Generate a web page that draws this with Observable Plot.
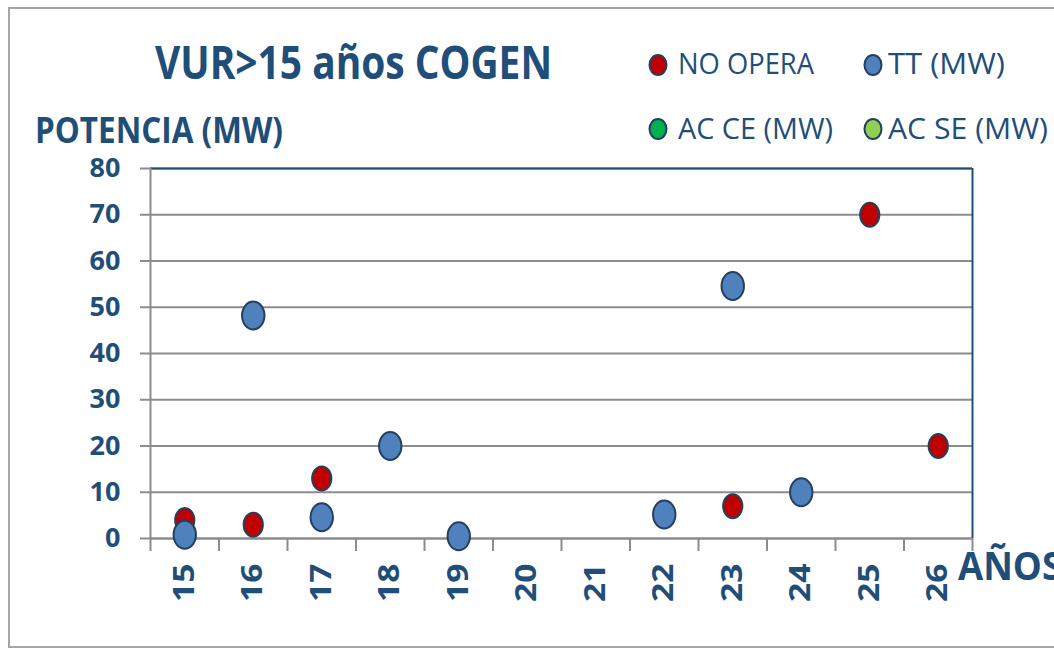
<!DOCTYPE html>
<html>
<head>
<meta charset="utf-8">
<script src="https://cdn.jsdelivr.net/npm/d3@7"></script>
<script src="https://cdn.jsdelivr.net/npm/@observablehq/plot@0.6"></script>
<style>
  html, body { margin: 0; padding: 0; background: #ffffff; }
  #wrap { position: relative; width: 1054px; height: 648px; overflow: hidden; background: #fff; }
  #wrap > svg { position: absolute; left: 0; top: 0; }
  #overlay { pointer-events: none; }
</style>
</head>
<body>
<div id="wrap"></div>
<script>
// ---- data ----
const years = [15, 16, 17, 18, 19, 20, 21, 22, 23, 24, 25, 26];
const noOperaYears  = [15, 16, 17, 23, 25, 26];
const noOperaValues = [4, 3, 13, 7, 70, 20];
const ttYears  = [15, 16, 17, 18, 19, 22, 23, 24];
const ttValues = [0.8, 48.2, 4.6, 20, 0.5, 5.2, 54.6, 10];
const yTicks = [0, 10, 20, 30, 40, 50, 60, 70, 80];
const seriesNames  = ["NO OPERA", "TT (MW)", "AC CE (MW)", "AC SE (MW)"];
const seriesColors = ["#C00000", "#4F81BD", "#00B050", "#92D050"];
const title = "VUR>15 años COGEN";
const yLabel = "POTENCIA (MW)";
const xLabel = "AÑOS";

// ---- style ----
const navy = "#1F4E79";
const gridGray = "#8c8c8c";
const dotStroke = "#243F60";

const noOpera = noOperaYears.map((y, i) => ({year: y, value: noOperaValues[i]}));
const tt = ttYears.map((y, i) => ({year: y, value: ttValues[i]}));
const boundaries = years.map(d => d - 0.5).concat([years[years.length - 1] + 0.5]);
const xDomain = [boundaries[0], boundaries[boundaries.length - 1]];

function ellipse(ratio) {
  return {
    draw(ctx, size) {
      const ry = Math.sqrt(size / Math.PI), rx = ry * ratio, k = 0.5523;
      ctx.moveTo(rx, 0);
      ctx.bezierCurveTo(rx, k * ry, k * rx, ry, 0, ry);
      ctx.bezierCurveTo(-k * rx, ry, -rx, k * ry, -rx, 0);
      ctx.bezierCurveTo(-rx, -k * ry, -k * rx, -ry, 0, -ry);
      ctx.bezierCurveTo(k * rx, -ry, rx, -k * ry, rx, 0);
      ctx.closePath();
    }
  };
}

const chart = Plot.plot({
  width: 1054,
  height: 648,
  marginLeft: 150,
  marginRight: 82,
  marginTop: 168,
  marginBottom: 110,
  style: {fontFamily: "'Open Sans', sans-serif", background: "transparent", overflow: "visible"},
  x: {domain: xDomain},
  y: {domain: [yTicks[0], yTicks[yTicks.length - 1]]},
  marks: [
    Plot.gridY(yTicks, {stroke: gridGray, strokeOpacity: 1, strokeWidth: 2}),
    Plot.ruleY([yTicks[yTicks.length - 1]], {stroke: navy, strokeWidth: 2}),
    Plot.ruleX([xDomain[1]], {stroke: navy, strokeWidth: 2}),
    Plot.ruleX([xDomain[0]], {stroke: gridGray, strokeWidth: 2}),
    Plot.ruleY([0], {stroke: gridGray, strokeWidth: 2}),
    Plot.axisY(yTicks, {tickSize: 10, tickPadding: 20, fontSize: 27, fontWeight: "bold",
      stroke: gridGray, fill: navy, strokeWidth: 2, label: null}),
    Plot.axisX(boundaries, {tickSize: 13, tickFormat: () => "", stroke: gridGray, strokeWidth: 2, label: null}),
    Plot.axisX(years, {tickSize: 0, tickPadding: 25, tickRotate: -90, fontSize: 28, fontWeight: "bold",
      fill: navy, label: null}),
    Plot.dot(noOpera, {x: "year", y: "value", r: 12, symbol: ellipse(0.8),
      fill: seriesColors[0], stroke: dotStroke, strokeWidth: 2}),
    Plot.dot(tt, {x: "year", y: "value", r: 14, symbol: ellipse(0.8),
      fill: seriesColors[1], stroke: dotStroke, strokeWidth: 2})
  ]
});
document.getElementById("wrap").appendChild(chart);

// stretch the rotated year labels along their length, as in the reference
d3.select(chart).selectAll('g[aria-label="x-axis tick label"] text').each(function() {
  const t = this.getAttribute("transform");
  if (t) this.setAttribute("transform", t + " scale(1.2,1)");
});

// ---- overlay: border, titles, legend ----
const ov = d3.select("#wrap").append("svg")
  .attr("id", "overlay")
  .attr("width", 1054).attr("height", 648)
  .style("font-family", "'Open Sans', sans-serif");

ov.append("rect").attr("x", 9).attr("y", 8).attr("width", 1100).attr("height", 639)
  .attr("fill", "none").attr("stroke", "#a6a6a6").attr("stroke-width", 2);

ov.append("text").text(title)
  .attr("x", 155).attr("y", 79).attr("font-size", 46).attr("font-weight", "bold")
  .attr("fill", navy).attr("textLength", 397).attr("lengthAdjust", "spacingAndGlyphs");

ov.append("text").text(yLabel)
  .attr("x", 35).attr("y", 143).attr("font-size", 35).attr("font-weight", "bold")
  .attr("fill", navy).attr("textLength", 248).attr("lengthAdjust", "spacingAndGlyphs");

ov.append("text").text(xLabel)
  .attr("x", 958).attr("y", 580).attr("font-size", 39).attr("font-weight", "bold")
  .attr("fill", navy).attr("textLength", 104).attr("lengthAdjust", "spacingAndGlyphs");

const legendPos = [
  {cx: 658, cy: 65, tx: 678, ty: 74, len: 136},
  {cx: 873, cy: 65, tx: 888, ty: 74, len: 117},
  {cx: 658, cy: 129, tx: 678, ty: 139, len: 155},
  {cx: 873, cy: 129, tx: 888, ty: 139, len: 160}
];
seriesNames.forEach((name, i) => {
  const p = legendPos[i];
  ov.append("ellipse").attr("cx", p.cx).attr("cy", p.cy).attr("rx", 8.5).attr("ry", 10)
    .attr("fill", seriesColors[i]).attr("stroke", dotStroke).attr("stroke-width", 2);
  ov.append("text").text(name)
    .attr("x", p.tx).attr("y", p.ty).attr("font-size", 29)
    .attr("fill", navy).attr("textLength", p.len).attr("lengthAdjust", "spacingAndGlyphs");
});
</script>
</body>
</html>
